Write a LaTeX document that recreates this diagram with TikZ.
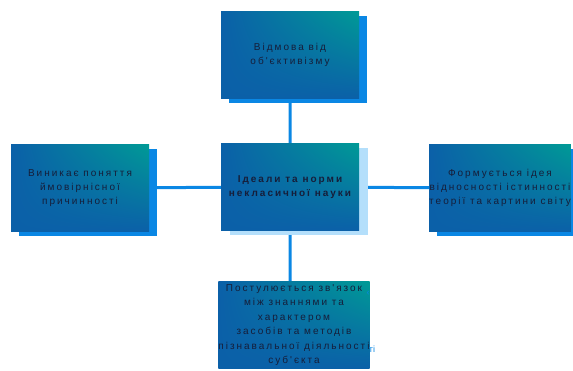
\documentclass[tikz,border=0pt]{standalone}
\usepackage{fontspec}
\setmainfont{Liberation Sans}
\newfontfamily\cardfont[LetterSpace=20]{Liberation Sans}
\usetikzlibrary{backgrounds,shadows,shadings}
\definecolor{cardblue}{RGB}{11,96,168}
\definecolor{cardteal}{RGB}{0,154,150}
\definecolor{shadeblue}{RGB}{10,135,228}
\definecolor{paleblue}{RGB}{180,223,251}
\definecolor{inkblue}{RGB}{22,30,58}
\tikzset{
  card/.style={rectangle, shade, minimum width=138pt, minimum height=87pt, inner sep=0pt,
    upper right=cardteal, upper left=cardblue, lower left=cardblue, lower right=cardblue,
    text=inkblue, align=center, font=\cardfont\fontsize{10}{14}\selectfont},
  deepshadow/.style={drop shadow={shadow xshift=8pt, shadow yshift=-4pt, fill=shadeblue, opacity=1}},
  paleshadow/.style={drop shadow={shadow xshift=9pt, shadow yshift=-4pt, fill=paleblue, opacity=1}},
  link/.style={draw=shadeblue, line width=3pt},
  stray/.style={text=shadeblue, inner sep=0pt, font=\fontsize{9}{10}\selectfont}
}

\begin{document}
\begin{tikzpicture}[x=1pt,y=-1pt]
    \useasboundingbox (0,0) rectangle (573,370);
    \node[card, deepshadow] (top) at (290,55) {Відмова від\\об'єктивізму};
    \node[card, paleshadow, font=\cardfont\bfseries\fontsize{10}{14}\selectfont] (mid) at (290,187) {Ідеали та норми\\некласичної науки};
    \node[card, deepshadow] (left) at (80,188) {Виникає поняття\\ймовірнісної\\причинності};
    \node[card, deepshadow] (right) at (500,188) {Формується ідея\\відносності істинності\\теорії та картини світу};
    \node[card, font=\cardfont\fontsize{10}{14.5}\selectfont] (bot) at (294,325) {Постулюється зв'язок\\між знаннями та\\характером\\засобів та методів\\пізнавальної діяльності\\суб'єкта};
    \node[stray] (mark) at (368,293) {‹};
    \node[stray] (tail) at (372,349) {ті};
    \begin{scope}[on background layer]
    \draw[link] (top) -- (mid)
    (mid.south) -- (mid.south |- bot.north)
    (left) -- (mid) -- (right);
    \end{scope}
  \end{tikzpicture}
\end{document}
